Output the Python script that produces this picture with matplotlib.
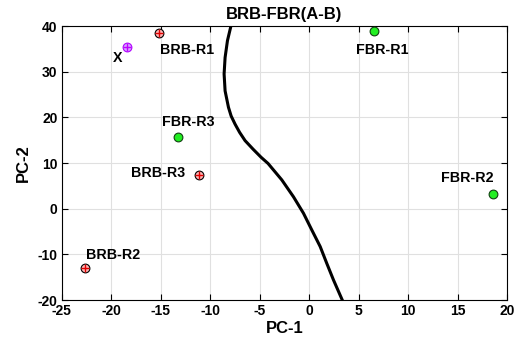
import matplotlib
matplotlib.use("Agg")
import matplotlib.pyplot as plt

plt.rcParams['font.family'] = ['Liberation Sans', 'DejaVu Sans']
plt.rcParams['font.weight'] = 'bold'
plt.rcParams['axes.unicode_minus'] = False

# data
brb_names = ["BRB-R1", "BRB-R2", "BRB-R3"]
brb_x = [-15.2, -22.6, -11.1]
brb_y = [38.5, -13.0, 7.4]
fbr_names = ["FBR-R1", "FBR-R2", "FBR-R3"]
fbr_x = [6.6, 18.6, -13.2]
fbr_y = [38.8, 3.2, 15.7]
unk_name = "X"
unk_x = [-18.4]
unk_y = [35.3]

# decision boundary
curve_y = [40.0, 36.8, 33.1, 29.5, 25.8, 22.2, 20.3, 18.5, 16.7, 14.9, 13.0, 11.25, 9.9,
           6.3, 2.6, -1.0, -4.7, -8.3, -12.0, -15.6, -20.0]
curve_x = [-7.9, -8.25, -8.49, -8.59, -8.49, -8.15, -7.88, -7.48, -7.02, -6.47, -5.65, -4.85, -4.15,
           -2.76, -1.58, -0.57, 0.28, 1.12, 1.79, 2.46, 3.35]

labels_pos = {
    "BRB-R1": (-12.3, 34.7), "BRB-R2": (-19.8, -10.2), "BRB-R3": (-15.3, 7.8),
    "FBR-R1": (7.4, 34.7), "FBR-R2": (16.0, 6.7), "FBR-R3": (-12.2, 19.0),
    "X": (-19.4, 33.0),
}

fig = plt.figure(figsize=(5.16, 3.44), dpi=100)
ax = fig.add_axes([0.1196, 0.1279, 0.8630, 0.7965])

ax.plot(curve_x, curve_y, color='black', lw=2.2, zorder=2, solid_joinstyle='round')

ax.plot(brb_x, brb_y, 'o', ms=6.3, mfc='#ffb8b8', mec='black', mew=0.8, ls='none', zorder=3)
ax.plot(brb_x, brb_y, '+', ms=5.8, color='#e00000', mew=1.0, ls='none', zorder=4)
ax.plot(unk_x, unk_y, 'o', ms=6.3, mfc='#d6a8ff', mec='#b000ff', mew=0.8, ls='none', zorder=3)
ax.plot(unk_x, unk_y, '+', ms=5.8, color='#c000ff', mew=1.0, ls='none', zorder=4)
ax.plot(fbr_x, fbr_y, 'o', ms=6.3, mfc='#22ee22', mec='#104010', mew=0.8, ls='none', zorder=3)

for name, (lx, ly) in labels_pos.items():
    ax.text(lx, ly, name, ha='center', va='center', fontsize=10.3, fontweight='bold')

ax.set_xlim(-25, 20)
ax.set_ylim(-20, 40)
ax.set_xticks(range(-25, 21, 5))
ax.set_yticks(range(-20, 41, 10))
ax.grid(True, color='#e0e0e0', lw=0.8)
ax.set_axisbelow(True)
ax.tick_params(direction='in', top=True, right=True, labelsize=10, length=4, width=0.8, pad=3)
for lab in ax.get_xticklabels() + ax.get_yticklabels():
    lab.set_fontweight('bold')
for s in ax.spines.values():
    s.set_linewidth(0.8)

ax.set_title("BRB-FBR(A-B)", fontsize=12, fontweight='bold', pad=5)
ax.set_xlabel("PC-1", fontsize=12, fontweight='bold', labelpad=2)
ax.set_ylabel("PC-2", fontsize=12, fontweight='bold', labelpad=5)

fig.savefig("out.png", dpi=100)
